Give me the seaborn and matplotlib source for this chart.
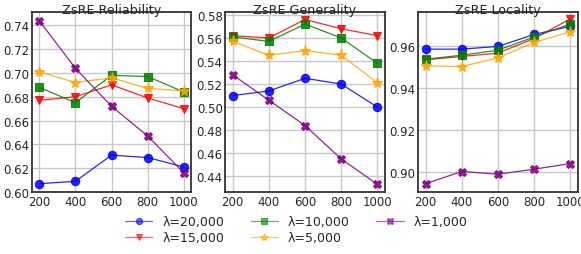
import numpy as np
import pandas as pd
import seaborn as sns
import matplotlib
matplotlib.use("Agg")
import matplotlib.pyplot as plt

steps = [200, 400, 600, 800, 1000]
labels = ["λ=20,000", "λ=15,000", "λ=10,000", "λ=5,000", "λ=1,000"]
colors = ["blue", "red", "green", "orange", "purple"]
markers = ["o", "v", "s", "*", "X"]

reliability = {
    "λ=20,000": [0.607, 0.609, 0.631, 0.629, 0.621],
    "λ=15,000": [0.677, 0.680, 0.690, 0.679, 0.670],
    "λ=10,000": [0.688, 0.675, 0.698, 0.697, 0.684],
    "λ=5,000": [0.701, 0.692, 0.696, 0.687, 0.685],
    "λ=1,000": [0.744, 0.704, 0.672, 0.647, 0.616],
}
generality = {
    "λ=20,000": [0.510, 0.514, 0.525, 0.520, 0.500],
    "λ=15,000": [0.562, 0.560, 0.576, 0.568, 0.562],
    "λ=10,000": [0.561, 0.557, 0.572, 0.560, 0.538],
    "λ=5,000": [0.557, 0.545, 0.549, 0.545, 0.521],
    "λ=1,000": [0.528, 0.506, 0.484, 0.455, 0.433],
}
locality = {
    "λ=20,000": [0.9584, 0.9584, 0.9597, 0.9654, 0.9693],
    "λ=15,000": [0.9533, 0.9549, 0.9565, 0.9635, 0.9728],
    "λ=10,000": [0.9536, 0.9555, 0.9579, 0.9642, 0.9704],
    "λ=5,000": [0.9504, 0.9501, 0.9542, 0.9616, 0.9667],
    "λ=1,000": [0.8942, 0.9000, 0.8987, 0.9011, 0.9038],
}
titles = ["ZsRE Reliability", "ZsRE Generality", "ZsRE Locality"]
datasets = [reliability, generality, locality]
ylims = [(0.600, 0.751), (0.4263, 0.5823), (0.8902, 0.976)]
yticks = [np.arange(0.60, 0.741, 0.02), np.arange(0.44, 0.581, 0.02), np.arange(0.90, 0.961, 0.02)]

sns.set_style("white")
plt.rcParams["font.family"] = ["DejaVu Sans"]

fig = plt.figure(figsize=(5.81, 2.55), dpi=100)
lefts = [0.055, 0.388, 0.720]
axes = [fig.add_axes([l, 0.243, 0.274, 0.705]) for l in lefts]

for ax, data, title, yl, yt in zip(axes, datasets, titles, ylims, yticks):
    for lab, c, m in zip(labels, colors, markers):
        df = pd.DataFrame({"step": steps, "val": data[lab]})
        sns.lineplot(data=df, x="step", y="val", ax=ax, color=c, marker=m,
                     markersize=6 if m != "*" else 8, linewidth=0.9,
                     markeredgecolor=c, markeredgewidth=0.8, alpha=0.85,
                     label=lab, legend=False)
    ax.set_title(title, fontsize=9.2, pad=-0.5)
    ax.set_xlabel("")
    ax.set_ylabel("")
    ax.set_xlim(160, 1040)
    ax.set_xticks(steps)
    ax.set_ylim(*yl)
    ax.set_yticks(yt)
    ax.set_yticklabels([f"{v:.2f}" for v in yt])
    ax.tick_params(labelsize=8.5, length=0, pad=2)
    ax.grid(True, color="#c8c8c8", linewidth=1.0)
    ax.set_axisbelow(True)
    for s in ax.spines.values():
        s.set_visible(True)
        s.set_color("#333333")
        s.set_linewidth(1.3)

handles, labs = axes[0].get_legend_handles_labels()
leg = fig.legend(handles, labs, loc="lower center", bbox_to_anchor=(0.51, -0.005), ncol=3,
                 frameon=False, fontsize=9, columnspacing=2.1, handlelength=2.2,
                 handletextpad=0.8, labelspacing=0.25, markerscale=0.75)
for h in leg.legend_handles:
    h.set_alpha(0.6)

fig.savefig("out.png", dpi=100)
